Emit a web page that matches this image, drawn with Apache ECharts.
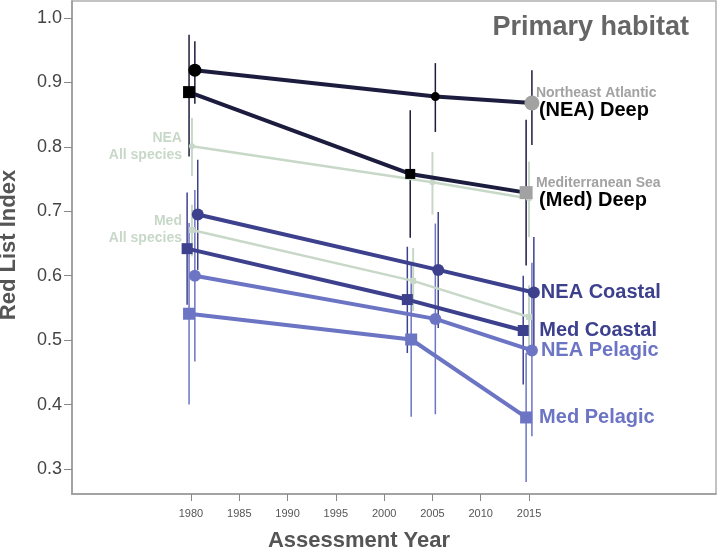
<!DOCTYPE html>
<html><head><meta charset="utf-8">
<script src="https://cdn.jsdelivr.net/npm/echarts@6/dist/echarts.min.js"></script>
<style>html,body{margin:0;padding:0;background:#fff}#c{width:718px;height:552px}</style>
</head><body><div id="c"></div>
<script>
// ---- data ----
const xTickYears = [1980, 1985, 1990, 1995, 2000, 2005, 2010, 2015];
const yTicks = [0.3, 0.4, 0.5, 0.6, 0.7, 0.8, 0.9, 1.0];

const neaDeepX  = [1980.4, 2005.3, 2015.3];
const neaDeepY  = [0.919, 0.878, 0.868];
const neaDeepLo = [0.867, 0.823, 0.803];
const neaDeepHi = [0.964, 0.930, 0.919];

const medDeepX  = [1979.8, 2002.7, 2014.7];
const medDeepY  = [0.885, 0.758, 0.729];
const medDeepLo = [0.785, 0.659, 0.616];
const medDeepHi = [0.974, 0.857, 0.842];

const neaAllX  = [1980.1, 2005.0, 2015.0];
const neaAllY  = [0.801, 0.745, 0.720];
const neaAllLo = [0.755, 0.695, 0.660];
const neaAllHi = [0.845, 0.792, 0.777];

const medAllX  = [1980.1, 2003.0, 2015.0];
const medAllY  = [0.671, 0.592, 0.536];
const medAllLo = [0.630, 0.545, 0.490];
const medAllHi = [0.710, 0.643, 0.585];

const neaCoastalX  = [1980.7, 2005.6, 2015.5];
const neaCoastalY  = [0.695, 0.609, 0.574];
const neaCoastalLo = [0.609, 0.519, 0.488];
const neaCoastalHi = [0.780, 0.699, 0.660];

const medCoastalX  = [1979.6, 2002.4, 2014.4];
const medCoastalY  = [0.642, 0.563, 0.515];
const medCoastalLo = [0.555, 0.480, 0.431];
const medCoastalHi = [0.729, 0.645, 0.600];

const neaPelagicX  = [1980.4, 2005.3, 2015.3];
const neaPelagicY  = [0.600, 0.533, 0.484];
const neaPelagicLo = [0.467, 0.385, 0.351];
const neaPelagicHi = [0.733, 0.681, 0.620];

const medPelagicX  = [1979.8, 2002.8, 2014.7];
const medPelagicY  = [0.541, 0.501, 0.380];
const medPelagicLo = [0.400, 0.381, 0.280];
const medPelagicHi = [0.682, 0.621, 0.480];

// ---- styles ----
const FONT = '"Liberation Sans", Arial, sans-serif';
const C_DEEP = '#1c1c3e', C_COAST = '#3d418d', C_PEL = '#6c74c4', C_ALL = '#c8d8c8', C_GRAY = '#a2a2a2';

function errSeries(xs, lo, hi, color, w) {
  return {
    type: 'custom', z: 1, silent: true,
    data: xs.map((x, i) => [x, lo[i], hi[i]]),
    encode: { x: 0, y: [1, 2] },
    renderItem: function (params, api) {
      const a = api.coord([api.value(0), api.value(1)]);
      const b = api.coord([api.value(0), api.value(2)]);
      return { type: 'line', shape: { x1: a[0], y1: a[1], x2: b[0], y2: b[1] },
               style: { stroke: color, lineWidth: w } };
    }
  };
}

function lineSeries(xs, ys, color, width, symbol, sizes, mColors, z, labelIdx, label) {
  return {
    type: 'line', z: z, symbol: symbol,
    lineStyle: { color: color, width: width },
    itemStyle: { color: color, opacity: 1 },
    data: xs.map((x, i) => {
      const d = { value: [x, ys[i]], symbolSize: sizes[i], itemStyle: { color: mColors[i] } };
      if (i === labelIdx) d.label = label;
      return d;
    })
  };
}

function rightLabel(dx, text, color) {
  return { show: true, position: 'inside', align: 'left', verticalAlign: 'middle', offset: [dx, 0],
    formatter: text, color: color, fontFamily: FONT, fontWeight: 'bold', fontSize: 20 };
}
function twoLineLabel(dx, top, bottom) {
  return { show: true, position: 'inside', align: 'left', verticalAlign: 'middle', offset: [dx, 0],
    formatter: '{a|' + top + '}\n{b|' + bottom + '}',
    rich: {
      a: { color: C_GRAY, fontFamily: FONT, fontWeight: 'bold', fontSize: 14, lineHeight: 15 },
      b: { color: '#000', fontFamily: FONT, fontWeight: 'bold', fontSize: 20, lineHeight: 19, padding: [0, 0, 0, 3] }
    } };
}
function leftLabel(dx, top, bottom) {
  return { show: true, position: 'inside', align: 'right', verticalAlign: 'middle', offset: [dx, 0],
    formatter: top + '\n' + bottom, color: C_ALL, fontFamily: FONT, fontWeight: 'bold', fontSize: 14, lineHeight: 17 };
}

const chart = echarts.init(document.getElementById('c'), null, { renderer: 'canvas' });
chart.setOption({
  animation: false,
  backgroundColor: '#fff',
  title: {
    text: 'Primary habitat', right: 24, top: 9,
    textStyle: { fontFamily: FONT, fontWeight: 'bold', fontSize: 27, color: '#666' }
  },
  grid: { left: 72, right: 2, top: 1, bottom: 58, show: true, borderColor: '#b0b0b0', borderWidth: 1.5 },
  xAxis: {
    type: 'value', min: 1967.68, max: 2034.36,
    splitLine: { show: false },
    axisLine: { show: true, lineStyle: { color: '#999', width: 1.5 } },
    axisTick: { show: true, length: 7, lineStyle: { color: '#888' }, customValues: xTickYears },
    axisLabel: { customValues: xTickYears, margin: 14, fontFamily: FONT, fontSize: 11, color: '#555',
                 formatter: v => String(Math.round(v)) }
  },
  yAxis: {
    type: 'value', min: 0.2612, max: 1.0264,
    splitLine: { show: false },
    axisLine: { show: true, lineStyle: { color: '#999', width: 1.5 } },
    axisTick: { show: true, length: 8, lineStyle: { color: '#888' }, customValues: yTicks },
    axisLabel: { customValues: yTicks, margin: 10, fontFamily: FONT, fontSize: 18, color: '#444',
                 formatter: v => v.toFixed(1) }
  },
  graphic: [
    { type: 'text', left: 'center', top: 530,
      style: { text: 'Assessment Year', font: 'bold 22px ' + FONT, fill: '#555' } },
    { type: 'text', rotation: Math.PI / 2, position: [9, 245],
      style: { text: 'Red List Index', font: 'bold 22px ' + FONT, fill: '#555', align: 'center', verticalAlign: 'middle' } }
  ],
  series: [
    errSeries(neaAllX, neaAllLo, neaAllHi, C_ALL, 2),
    errSeries(medAllX, medAllLo, medAllHi, C_ALL, 2),
    errSeries(neaDeepX, neaDeepLo, neaDeepHi, C_DEEP, 1.5),
    errSeries(medDeepX, medDeepLo, medDeepHi, C_DEEP, 1.5),
    errSeries(neaCoastalX, neaCoastalLo, neaCoastalHi, C_COAST, 1.5),
    errSeries(medCoastalX, medCoastalLo, medCoastalHi, C_COAST, 1.5),
    errSeries(neaPelagicX, neaPelagicLo, neaPelagicHi, C_PEL, 1.5),
    errSeries(medPelagicX, medPelagicLo, medPelagicHi, C_PEL, 1.5),
    lineSeries(neaAllX, neaAllY, C_ALL, 2.5, 'circle', [6, 6, 6], [C_ALL, C_ALL, C_ALL], 2, 0, leftLabel(-10, 'NEA', 'All species')),
    lineSeries(medAllX, medAllY, C_ALL, 2.5, 'rect', [6, 6, 6], [C_ALL, C_ALL, C_ALL], 2, 0, leftLabel(-10, 'Med', 'All species')),
    lineSeries(medPelagicX, medPelagicY, C_PEL, 4, 'rect', [12, 12, 12], [C_PEL, C_PEL, C_PEL], 3, 2, rightLabel(13, 'Med Pelagic', C_PEL)),
    lineSeries(neaPelagicX, neaPelagicY, C_PEL, 4, 'circle', [12, 12, 12], [C_PEL, C_PEL, C_PEL], 3, 2, rightLabel(9, 'NEA Pelagic', C_PEL)),
    lineSeries(medCoastalX, medCoastalY, C_COAST, 4, 'rect', [11, 11, 11], [C_COAST, C_COAST, C_COAST], 3, 2, rightLabel(16, 'Med Coastal', C_COAST)),
    lineSeries(neaCoastalX, neaCoastalY, C_COAST, 4, 'circle', [12, 12, 12], [C_COAST, C_COAST, C_COAST], 3, 2, rightLabel(7, 'NEA Coastal', C_COAST)),
    lineSeries(medDeepX, medDeepY, C_DEEP, 4, 'rect', [12, 10, 13], ['#000', '#000', C_GRAY], 4, 2, twoLineLabel(10, 'Mediterranean Sea', '(Med) Deep')),
    lineSeries(neaDeepX, neaDeepY, C_DEEP, 4, 'circle', [13, 9, 15], ['#000', '#000', C_GRAY], 4, 2, twoLineLabel(4, 'Northeast Atlantic', '(NEA) Deep'))
  ]
});
</script></body></html>
